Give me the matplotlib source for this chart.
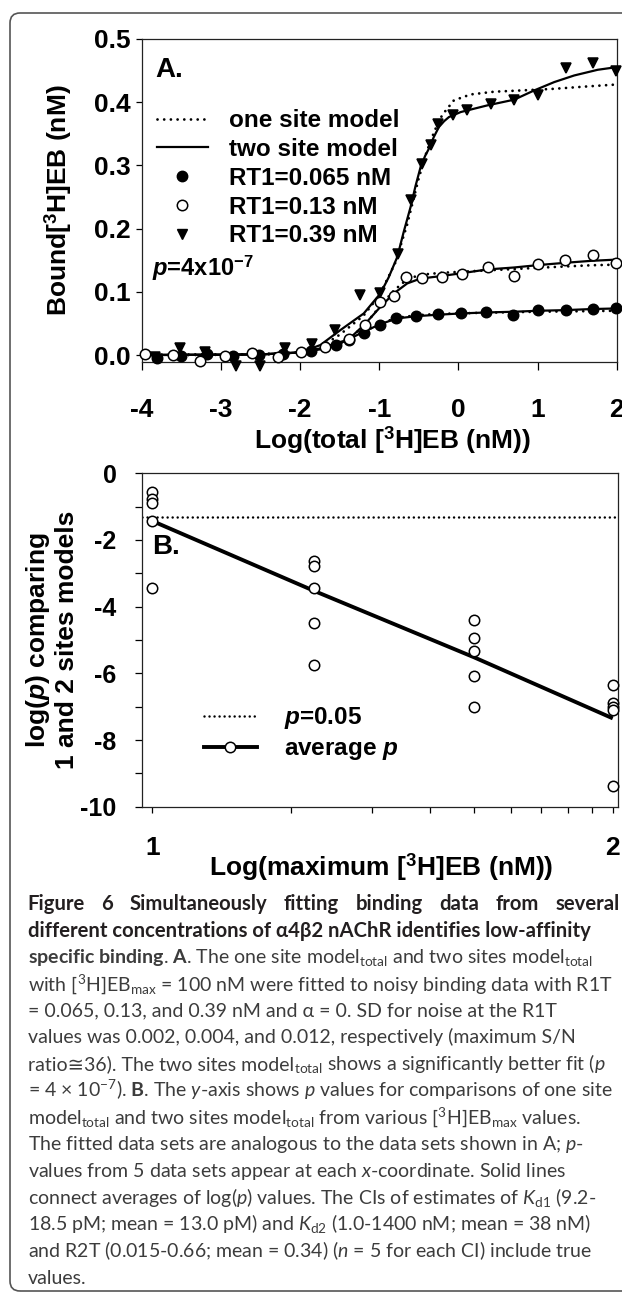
#!/usr/bin/env python3
"""
Figure 6 recreation: two-panel binding fit plot with caption underneath.
Writes out.png (622 x 1293 px).
"""

import matplotlib
matplotlib.use("Agg")
import matplotlib.pyplot as plt
from matplotlib.lines import Line2D
from matplotlib.patches import FancyBboxPatch
from matplotlib.transforms import IdentityTransform
from matplotlib.ticker import FixedLocator, NullFormatter

W, H, DPI = 622, 1293, 100

# ---- panel A data (x = log total [3H]EB, y = bound nM) ----
F_X = [-3.81, -3.50, -3.18, -2.85, -2.52, -2.22, -1.86, -1.55, -1.38, -1.195, -0.984,
       -0.794, -0.54, -0.258, 0.029, 0.354, 0.696, 1.008, 1.358, 1.696, 1.99]
F_Y = [-0.004, -0.001, 0.001, -0.002, 0.000, 0.002, 0.007, 0.016, 0.024, 0.035, 0.047,
       0.058, 0.0616, 0.0648, 0.0658, 0.068, 0.064, 0.071, 0.072, 0.073, 0.0737]

O_X = [-3.958, -3.608, -3.262, -2.95, -2.61, -2.28, -1.985, -1.68, -1.385, -1.18, -0.984,
       -0.815, -0.658, -0.456, -0.203, 0.051, 0.375, 0.704, 1.008, 1.35, 1.696, 1.99]
O_Y = [0.002, 0.0, -0.010, -0.001, 0.004, -0.003, 0.005, 0.012, 0.025, 0.047, 0.084,
       0.093, 0.124, 0.122, 0.124, 0.128, 0.1395, 0.125, 0.144, 0.151, 0.1575, 0.145]

T_X = [-3.83, -3.515, -3.2, -2.806, -2.503, -2.186, -1.85, -1.553, -1.237, -0.984, -0.764,
       -0.595, -0.456, -0.35, -0.258, -0.063, 0.114, 0.418, 0.704, 1.008, 1.358, 1.696, 1.99]
T_Y = [-0.003, 0.0115, 0.005, -0.017, -0.018, 0.0115, 0.017, 0.0395, 0.0948, 0.098, 0.1606,
       0.245, 0.302, 0.332, 0.366, 0.380, 0.387, 0.3965, 0.404, 0.411, 0.454, 0.462, 0.450]

# fitted curves (solid = two site, dotted = one site)
S1_X = [-4, -3, -2.5, -2, -1.743, -1.5, -1.321, -1.195, -0.984, -0.772, -0.519, -0.266,
        0.029, 0.367, 0.704, 1.0, 1.337, 1.675, 2.0]
S1_Y = [0.0, 0.0005, 0.001, 0.004, 0.009, 0.018, 0.029, 0.0368, 0.049, 0.058, 0.0616, 0.0637,
        0.0658, 0.0674, 0.0685, 0.070, 0.071, 0.0727, 0.0737]
D1_Y = [0.0, 0.0005, 0.001, 0.004, 0.009, 0.018, 0.029, 0.0368, 0.050, 0.059, 0.063, 0.065,
        0.066, 0.067, 0.0678, 0.0685, 0.069, 0.0695, 0.070]

S2_X = [-4, -3, -2.5, -2, -1.743, -1.385, -1.18, -0.984, -0.815, -0.646, -0.477, -0.224,
        0.071, 0.367, 0.704, 1.0, 1.337, 1.675, 2.0]
S2_Y = [0.0, 0.0005, 0.001, 0.004, 0.0105, 0.0248, 0.049, 0.0763, 0.0975, 0.1133, 0.121,
        0.1248, 0.130, 0.1354, 0.1385, 0.1422, 0.1458, 0.149, 0.151]
D2_Y = [0.0, 0.0005, 0.001, 0.004, 0.010, 0.024, 0.048, 0.078, 0.102, 0.120, 0.127,
        0.130, 0.132, 0.134, 0.136, 0.138, 0.140, 0.142, 0.143]

S3_X = [-4, -3, -2.5, -2, -1.743, -1.49, -1.195, -0.984, -0.88, -0.772, -0.69, -0.604, -0.54,
        -0.477, -0.42, -0.372, -0.31, -0.246, -0.18, -0.119, 0.029, 0.367, 0.704, 0.957,
        1.21, 1.463, 1.76, 2.0]
S3_Y = [0.0, 0.0005, 0.001, 0.004, 0.0158, 0.0395, 0.0658, 0.0975, 0.123, 0.155, 0.195,
        0.234, 0.268, 0.2975, 0.315, 0.3265, 0.345, 0.3607, 0.370, 0.3765, 0.3844, 0.395,
        0.404, 0.4186, 0.4318, 0.4423, 0.4513, 0.4555]
D3_X = [-4, -3, -2.5, -2, -1.75, -1.5, -1.2, -1.0, -0.8, -0.65, -0.5, -0.4, -0.3, -0.203,
        -0.056, 0.156, 0.451, 0.789, 1.21, 1.633, 2.0]
D3_Y = [0.0, 0.0005, 0.001, 0.004, 0.012, 0.032, 0.062, 0.094, 0.145, 0.205, 0.28, 0.322,
        0.355, 0.38, 0.403, 0.4123, 0.4166, 0.4186, 0.4212, 0.425, 0.428]

A_YTICKS = [0.0, 0.1, 0.2, 0.3, 0.4, 0.5]
A_XTICKS = [-4, -3, -2, -1, 0, 1, 2]

# ---- panel B data (x = maximum [3H]EB nM on log axis, y = log p) ----
B_X = [10, 22.4, 50, 100]
B_LOGP = [[-0.55, -0.78, -0.9, -1.43, -3.45],
          [-2.62, -2.78, -3.45, -4.5, -5.75],
          [-4.4, -4.93, -5.32, -6.08, -7.0],
          [-6.35, -6.9, -7.0, -7.1, -9.39]]
B_AVG = [-1.43, -3.52, -5.52, -7.35]
P_THRESH = -1.30          # log10(0.05)
B_MAJOR = [10, 100]
B_MAJOR_LABELS = ["1", "2"]
B_MINOR = [20, 30, 40, 50, 60, 70, 80, 90]
B_YMAJOR = [0, -2, -4, -6, -8, -10]
B_YMINOR = [-1, -3, -5, -7, -9]

# caption lines; a line given as a list is drawn piece by piece
CAPTION = [
    ("title", "Figure 6 Simultaneously fitting binding data from several"),
    ("bold", "different concentrations of α4β2 nAChR identifies low-affinity"),
    ("reg", r"$\mathbf{specific\ binding}$. $\mathbf{A}$. The one site model$_\mathregular{total}$ and two sites model$_\mathregular{total}$"),
    ("reg", r"with [$^\mathregular{3}$H]EB$_\mathregular{max}$ = 100 nM were fitted to noisy binding data with R1T"),
    ("reg", "= 0.065, 0.13, and 0.39 nM and α = 0. SD for noise at the R1T"),
    ("reg", "values was 0.002, 0.004, and 0.012, respectively (maximum S/N"),
    ("reg", ["ratio≅36). The two sites model",
             r"$_\mathregular{total}$ shows a significantly better fit ($\mathit{p}$"]),
    ("reg", r"= 4 × 10$^\mathregular{-7}$). $\mathbf{B}$. The $\mathit{y}$-axis shows $\mathit{p}$ values for comparisons of one site"),
    ("reg", r"model$_\mathregular{total}$ and two sites model$_\mathregular{total}$ from various [$^\mathregular{3}$H]EB$_\mathregular{max}$ values."),
    ("reg", r"The fitted data sets are analogous to the data sets shown in A; $\mathit{p}$-"),
    ("reg", r"values from 5 data sets appear at each $\mathit{x}$-coordinate. Solid lines"),
    ("reg", r"connect averages of log($\mathit{p}$) values. The CIs of estimates of $\mathit{K}_\mathregular{d1}$ (9.2-"),
    ("reg", r"18.5 pM; mean = 13.0 pM) and $\mathit{K}_\mathregular{d2}$ (1.0-1400 nM; mean = 38 nM)"),
    ("reg", r"and R2T (0.015-0.66; mean = 0.34) ($\mathit{n}$ = 5 for each CI) include true"),
    ("reg", "values."),
]

CHART_FONT = "Liberation Sans"
CAP_FONT = "Lato"
plt.rcParams["font.family"] = [CHART_FONT, "DejaVu Sans"]
plt.rcParams["font.weight"] = "bold"
plt.rcParams["mathtext.fontset"] = "custom"
plt.rcParams["mathtext.rm"] = CAP_FONT + ":weight=normal"
plt.rcParams["mathtext.it"] = CAP_FONT + ":style=italic:weight=normal"
plt.rcParams["mathtext.bf"] = CAP_FONT + ":weight=bold"
plt.rcParams["mathtext.sf"] = CHART_FONT + ":style=italic:weight=bold"
plt.rcParams["mathtext.fallback"] = "stixsans"


def px(x, y):
    return x / W, 1 - y / H


def ax_rect(left, top, right, bottom):
    return [left / W, 1 - bottom / H, (right - left) / W, (bottom - top) / H]


def style_axes(ax):
    for s in ax.spines.values():
        s.set_linewidth(0.9)
        s.set_color("#222222")


fig = plt.figure(figsize=(W / DPI, H / DPI), dpi=DPI, facecolor="white")
renderer = fig.canvas.get_renderer()

# ---------------- panel A ----------------
ax = fig.add_axes(ax_rect(141.7, 39, 616.7, 362.3))
style_axes(ax)
dot = dict(ls=(0, (0.01, 2.4)), lw=2.0, color="black", dash_capstyle="round")
solid = dict(ls="-", lw=1.6, color="black")
ax.plot(S1_X, D1_Y, **dot)
ax.plot(S2_X, D2_Y, **dot)
ax.plot(D3_X, D3_Y, **dot)
ax.plot(S1_X, S1_Y, **solid)
ax.plot(S2_X, S2_Y, **solid)
ax.plot(S3_X, S3_Y, **solid)
mk = dict(ls="none", ms=7.5, mew=1.1, mec="black", clip_on=False, zorder=5)
ax.plot(F_X, F_Y, marker="o", mfc="black", **mk)
ax.plot(T_X, T_Y, marker="v", mfc="black", **mk)
ax.plot(O_X, O_Y, marker="o", mfc="white", **mk)
ax.set_xlim(-4, 2)
ax.set_ylim(-0.0115, 0.5)
ax.set_xticks(A_XTICKS, [str(v) for v in A_XTICKS])
ax.set_yticks(A_YTICKS, [f"{v:.1f}" for v in A_YTICKS])
ax.tick_params(axis="x", direction="out", length=6, width=0.9, pad=20, labelsize=19)
ax.tick_params(axis="y", direction="out", length=4, width=0.9, pad=4, labelsize=19)

handles = [
    Line2D([], [], **dot),
    Line2D([], [], **solid),
    Line2D([], [], marker="o", ls="none", ms=7.5, mfc="black", mec="black"),
    Line2D([], [], marker="o", ls="none", ms=7.5, mfc="white", mec="black", mew=1.1),
    Line2D([], [], marker="v", ls="none", ms=7.5, mfc="black", mec="black"),
]
labels = ["one site model", "two site model", "RT1=0.065 nM", "RT1=0.13 nM", "RT1=0.39 nM"]
ax.legend(handles, labels, loc="upper left", bbox_to_anchor=(0.032, 0.783), frameon=False,
          borderpad=0, borderaxespad=0, handlelength=2.1, handletextpad=0.85,
          labelspacing=0.24, fontsize=17.5, numpoints=1)
fig.text(*px(155, 70), "A.", fontsize=20, fontweight="bold", va="center", ha="left")
fig.text(*px(152, 268), r"$\mathsf{p}$=4x10$^\mathregular{-7}$", fontsize=17,
         fontweight="bold", va="center", ha="left")
fig.text(*px(58, 200), r"Bound[$^\mathregular{3}$H]EB (nM)", rotation=90, fontsize=19,
         fontweight="bold", ha="center", va="center")
fig.text(*px(392, 440), r"Log(total [$^\mathregular{3}$H]EB (nM))", fontsize=19,
         fontweight="bold", ha="center", va="center")

# ---------------- panel B ----------------
bx = fig.add_axes(ax_rect(141.7, 473.3, 618.3, 806.7))
style_axes(bx)
bx.set_xscale("log")
bx.axhline(P_THRESH, ls=(0, (0.01, 2.0)), lw=1.8, color="black", dash_capstyle="round")
bx.plot(B_X, B_AVG, ls="-", lw=2.8, color="black", solid_capstyle="butt")
for xv, vals in zip(B_X, B_LOGP):
    bx.plot([xv] * len(vals), vals, ls="none", marker="o", ms=7.5, mfc="white",
            mec="black", mew=1.1, clip_on=False, zorder=5)
bx.set_xlim(10 ** 0.977, 10 ** 2.012)
bx.set_ylim(-10, 0)
bx.set_xticks(B_MAJOR, B_MAJOR_LABELS)
bx.xaxis.set_minor_locator(FixedLocator(B_MINOR))
bx.xaxis.set_minor_formatter(NullFormatter())
bx.set_yticks(B_YMAJOR, [str(v) for v in B_YMAJOR])
bx.yaxis.set_minor_locator(FixedLocator(B_YMINOR))
bx.tick_params(axis="x", which="both", direction="out", length=4, width=0.9, pad=17,
               labelsize=19)
bx.tick_params(axis="y", which="both", direction="out", length=5, width=0.9, pad=13,
               labelsize=18)

bh = [Line2D([], [], ls=(0, (0.01, 2.0)), lw=1.8, color="black", dash_capstyle="round"),
      Line2D([], [], ls="-", lw=2.8, color="black", marker="o", ms=7.5, mfc="white",
             mec="black", mew=1.1)]
bl = [r"$\mathsf{p}$=0.05", r"average $\mathsf{p}$"]
bx.legend(bh, bl, loc="upper left", bbox_to_anchor=(0.130, 0.305), frameon=False,
          borderpad=0, borderaxespad=0, handlelength=2.2, handletextpad=1.1,
          labelspacing=0.25, fontsize=17.5, numpoints=1)
fig.text(*px(152, 547), "B.", fontsize=20, fontweight="bold", va="center", ha="left")
fig.text(*px(38, 640), r"log($\mathsf{p}$) comparing", rotation=90, fontsize=19,
         fontweight="bold", ha="center", va="center")
fig.text(*px(67, 640), "1 and 2 sites models", rotation=90, fontsize=19,
         fontweight="bold", ha="center", va="center")
fig.text(*px(381, 867), r"Log(maximum [$^\mathregular{3}$H]EB (nM))", fontsize=19,
         fontweight="bold", ha="center", va="center")

# ---------------- caption ----------------
CAP_LEFT, CAP_RIGHT, CAP_BASE, CAP_STEP = 27.7, 620.0, 910.0, 26.7
for i, (kind, line) in enumerate(CAPTION):
    y = CAP_BASE + i * CAP_STEP
    kw = dict(family=[CAP_FONT, "DejaVu Sans"], ha="left", va="baseline")
    if kind in ("title", "bold"):
        kw.update(fontsize=14.6, fontweight="bold", color="#231f20")
    else:
        kw.update(fontsize=14, fontweight="normal", color="#3c3c3c")
    if kind == "title":
        # title line is spread over the full caption width
        words = line.split()
        arts = [fig.text(0, 0, w_, **kw) for w_ in words]
        widths = [a.get_window_extent(renderer).width for a in arts]
        gap = (CAP_RIGHT - CAP_LEFT - sum(widths)) / (len(words) - 1)
        x = CAP_LEFT
        for a, wd in zip(arts, widths):
            a.set_position(px(x, y))
            x += wd + gap
    elif isinstance(line, list):
        x = CAP_LEFT
        for piece in line:
            a = fig.text(*px(x, y), piece, **kw)
            x += a.get_window_extent(renderer).width
    else:
        fig.text(*px(CAP_LEFT, y), line, **kw)

# frame around figure + caption
fig.add_artist(FancyBboxPatch((10, 2), 660, 1278, boxstyle="round,pad=0,rounding_size=10",
                              transform=IdentityTransform(), fill=False,
                              edgecolor="#555555", lw=1.2))

fig.savefig("out.png", dpi=DPI, facecolor="white")
